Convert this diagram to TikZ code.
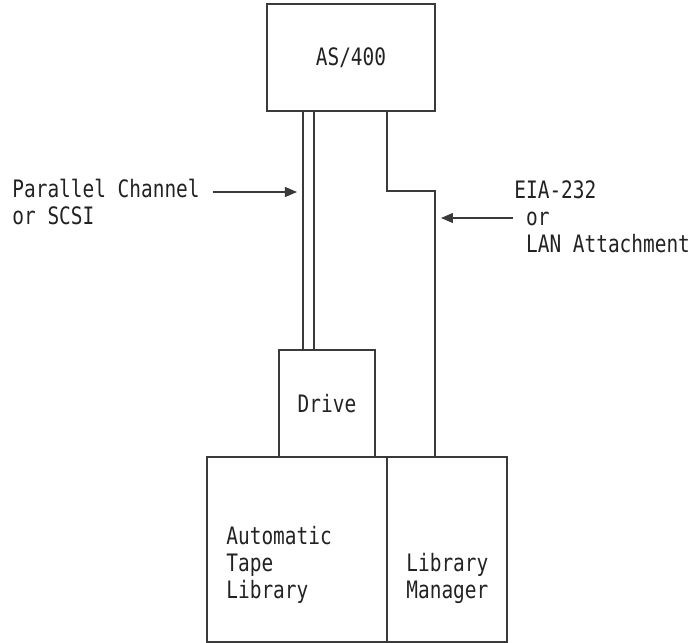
\documentclass[tikz,border=0pt]{standalone}
\usepackage{fontspec}
\usetikzlibrary{arrows.meta, positioning}
\newfontfamily\termfont{DejaVu Sans Mono}[FakeStretch=0.81]
\definecolor{diaLine}{HTML}{3a3a3a}
\definecolor{diaInk}{HTML}{222222}

\begin{document}
\begin{tikzpicture}[x=0.5pt, y=-0.5pt,
        font=\termfont\fontsize{12}{13.5}\selectfont,
        box/.style={draw=diaLine, line width=0.8pt, text=diaInk, inner sep=0pt, outer sep=0pt},
        lbl/.style={text=diaInk, align=left, inner sep=0pt, anchor=base west},
        wire/.style={diaLine, line width=0.8pt},
        ptr/.style={-{Triangle[length=6pt, width=5pt]}, diaLine, line width=0.6pt, shorten >=3pt}]
  \useasboundingbox (0,0) rectangle (693,643);
  % host and library units
  \node[box, minimum width=84pt, minimum height=53.5pt] (as400) at (351,57.5) {AS/400};
  \node[box, minimum width=48pt, minimum height=53.5pt] (drive) at (327,403.5) {Drive};
  \node[box, minimum width=90pt, minimum height=92.5pt] (atl) at (297,549.5) {};
  \node[box, minimum width=60pt, minimum height=92.5pt, right=0pt of atl] (lm) {};
  \node[lbl] (atltxt) at (226,598) {Automatic\\Tape\\Library};
  \node[lbl] (lmtxt) at (406,598) {Library\\Manager};
  % attachment labels
  \node[lbl] (par) at (12,224) {Parallel Channel\\or SCSI};
  \node[lbl] (eia) at (514,252) {EIA-232\\\phantom{E}or\\\phantom{E}LAN Attachment};
  % cables
  \coordinate (pc1) at (303,111);
  \coordinate (pc2) at (314,111);
  \coordinate (kink) at (435,191);
  \draw[wire] (pc1) -- (pc1 |- drive.north);
  \draw[wire] (pc2) -- (pc2 |- drive.north);
  \draw[wire] (as400.south -| lm.west) |- (kink) -- (kink |- lm.north);
  % pointers
  \coordinate (parptr) at (213,192);
  \coordinate (eiaptr) at (513,218);
  \draw[ptr] (parptr) -- (parptr -| pc1);
  \draw[ptr] (eiaptr) -- (eiaptr -| kink);
\end{tikzpicture}
\end{document}
